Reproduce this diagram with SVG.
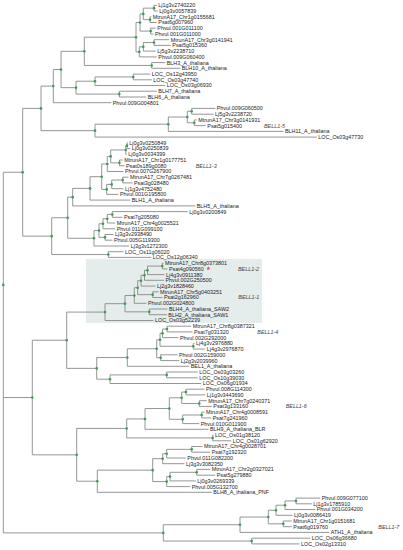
<svg xmlns="http://www.w3.org/2000/svg" width="403" height="550" viewBox="0 0 403 550">
<style>
text{font-family:"Liberation Sans",Arial,sans-serif;font-size:5.4px;fill:#222}
.cl{font-style:italic;fill:#444}
.br{fill:none;stroke:#8a8a8a;stroke-width:0.9}
.nd{fill:#3a9d4f}
</style>
<rect id="highlight" x="86" y="259" width="176" height="64" fill="#e4ecec"/>
<g id="connectors" class="br"><path d="M3.3,172.26V532.89M3.3,172.26H22.7M3.3,397.53H32.3M3.3,532.89H163.3
M22.7,108.38V236.13M22.7,108.38H41M22.7,236.13H51.7
M41,86.1V130.65M41,86.1H53.3M41,130.65H95
M53.3,69.49V102.7M53.3,69.49H61M53.3,102.7H111.2
M61,51.32V87.66M61,51.32H84.3M61,87.66H76
M84.3,37.18V65.45M84.3,37.18H136M84.3,65.45H151.7
M136,22.5V51.86M136,22.5H140M136,51.86H139.3
M140,13.9V31.1M140,13.9H143.3M140,31.1H150.7
M143.3,8.15V19.65M143.3,8.15H154M143.3,19.65H150
M154,5.3V11M154,5.3H156.8M154,11H157.8
M150,16.8V22.5M150,16.8H151.2M150,22.5H156.8
M150.7,28.2V34M150.7,28.2H155.8M150.7,34H153.5
M139.3,46.83V56.9M139.3,46.83H143.3M139.3,56.9H156.8
M143.3,42.55V51.1M143.3,42.55H154M143.3,51.1H155.8
M154,39.7V45.4M154,39.7H169.2M154,45.4H170.8
M151.7,62.6V68.3M151.7,62.6H165.2M151.7,68.3H180.2
M76,81.23V94.1M76,81.23H95M76,94.1H119.3
M95,76.95V85.5M95,76.95H133.3M95,85.5H165.2
M133.3,74.1V79.8M133.3,74.1H150.2M133.3,79.8H151.8
M119.3,91.2V97M119.3,91.2H156.8M119.3,97H146.2
M95,124.2V137.1M95,124.2H168.3M95,137.1H316.8
M168.3,117.03V131.4M168.3,117.03H187.3M168.3,131.4H283.5
M187.3,111.3V122.75M187.3,111.3H191.7M187.3,122.75H194.3
M191.7,108.4V114.2M191.7,108.4H215.2M191.7,114.2H213.5
M194.3,119.9V125.6M194.3,119.9H196.8M194.3,125.6H205.8
M51.7,217.72V254.55M51.7,217.72H67.7M51.7,254.55H108.3
M67.7,197.15V238.28M67.7,197.15H72.7M67.7,238.28H94
M72.7,188.39V205.9M72.7,188.39H90M72.7,205.9H195.2
M90,176.68V200.1M90,176.68H101.7M90,200.1H130.2
M101.7,163.96V189.39M101.7,163.96H107.3M101.7,189.39H106.7
M107.3,156.41V171.5M107.3,156.41H110.7M107.3,171.5H123.5
M110.7,149.98V162.85M110.7,149.98H125.8M110.7,162.85H119.5
M125.8,145.65V154.3M125.8,145.65H127M125.8,154.3H126.8
M127,142.8V148.5M127,142.8H127.8M127,148.5H130.2
M119.5,160V165.7M119.5,160H122.8M119.5,165.7H124.5
M106.7,184.38V194.4M106.7,184.38H111.7M106.7,194.4H118.5
M111.7,180.05V188.7M111.7,180.05H122.7M111.7,188.7H123.5
M122.7,177.2V182.9M122.7,177.2H128.5M122.7,182.9H132.5
M94,230.56V246M94,230.56H99M94,246H129.2
M99,223.76V237.35M99,223.76H103M99,237.35H105
M103,218.73V228.8M103,218.73H107.3M103,228.8H115.2
M107.3,214.45V223M107.3,214.45H112.3M107.3,223H115.2
M112.3,211.6V217.3M112.3,211.6H187.8M112.3,217.3H122.5
M105,234.5V240.2M105,234.5H113.5M105,240.2H112.5
M108.3,251.7V257.4M108.3,251.7H123.5M108.3,257.4H151.2
M32.3,340.23V454.83M32.3,340.23H66.7M32.3,454.83H76.7
M66.7,312.09V368.37M66.7,312.09H105M66.7,368.37H96.7
M105,303.67V320.5M105,303.67H125M105,320.5H153.5
M125,295.49V311.85M125,295.49H134.3M125,311.85H149.3
M134.3,287.68V303.3M134.3,287.68H137.7M134.3,303.3H146.5
M137.7,280.71V294.65M137.7,280.71H141M137.7,294.65H152.7
M141,275.31V286.1M141,275.31H144.5M141,286.1H155.5
M144.5,270.33V280.3M144.5,270.33H147.5M144.5,280.3H164
M147.5,266.05V274.6M147.5,266.05H162.3M147.5,274.6H164.5
M162.3,263.2V268.9M162.3,263.2H163.5M162.3,268.9H167.5
M152.7,291.8V297.5M152.7,291.8H158.5M152.7,297.5H162.5
M149.3,309V314.7M149.3,309H167.5M149.3,314.7H166.8
M96.7,357.53V379.2M96.7,357.53H127.3M96.7,379.2H110
M127.3,348.75V366.3M127.3,348.75H156.7M127.3,366.3H189.2
M156.7,339.79V357.7M156.7,339.79H160M156.7,357.7H160.7
M160,333.33V346.25M160,333.33H162.5M160,346.25H193.3
M162.5,329.05V337.6M162.5,329.05H167M162.5,337.6H178.5
M167,326.2V331.9M167,326.2H191.2M167,331.9H192.5
M193.3,343.4V349.1M193.3,343.4H194.5M193.3,349.1H205.2
M160.7,354.8V360.6M160.7,354.8H177.5M160.7,360.6H179.2
M110,374.9V383.5M110,374.9H166.7M110,383.5H201.2
M166.7,372V377.8M166.7,372H197.8M166.7,377.8H197.8
M76.7,428.44V481.22M76.7,428.44H126.7M76.7,481.22H97.3
M126.7,418.93V437.95M126.7,418.93H145M126.7,437.95H212.7
M145,408.55V429.3M145,408.55H169.3M145,429.3H208.5
M169.3,397.8V419.3M169.3,397.8H181.7M169.3,419.3H182.7
M181.7,392.05V403.55M181.7,392.05H186M181.7,403.55H199.3
M186,389.2V394.9M186,389.2H204.5M186,394.9H205.2
M199.3,400.7V406.4M199.3,400.7H206.8M199.3,406.4H211.8
M182.7,415V423.6M182.7,415H201.7M182.7,423.6H199.2
M201.7,412.1V417.9M201.7,412.1H204.5M201.7,417.9H211.2
M212.7,435.1V440.8M212.7,435.1H213.5M212.7,440.8H231.2
M97.3,470.15V492.3M97.3,470.15H152.7M97.3,492.3H211.8
M152.7,458.69V481.6M152.7,458.69H162.7M152.7,481.6H166.7
M162.7,453.68V463.7M162.7,453.68H166.7M162.7,463.7H184.5
M166.7,449.35V458M166.7,449.35H191.7M166.7,458H185.8
M191.7,446.5V452.2M191.7,446.5H202.5M191.7,452.2H210.2
M166.7,476.6V486.6M166.7,476.6H170M166.7,486.6H190.2
M170,472.3V480.9M170,472.3H196.7M170,480.9H195.8
M196.7,469.4V475.2M196.7,469.4H210.2M196.7,475.2H215.2
M163.3,524.73V541.05M163.3,524.73H240M163.3,541.05H251.7
M240,517.06V532.4M240,517.06H268.3M240,532.4H329.2
M268.3,510.26V523.85M268.3,510.26H276M268.3,523.85H283.3
M276,505.23V515.3M276,505.23H285M276,515.3H292.5
M285,500.95V509.5M285,500.95H296M285,509.5H315.2
M296,498.1V503.8M296,498.1H320.2M296,503.8H311.8
M283.3,521V526.7M283.3,521H291.8M283.3,526.7H291.8
M251.7,538.2V543.9M251.7,538.2H310.2M251.7,543.9H299.5"/></g>
<g id="internal-nodes" class="nd">
<circle id="root" cx="3.3" cy="284.9" r="1.3"/>
<circle cx="22.7" cy="172.26" r="1.3"/><circle cx="41" cy="108.38" r="1.3"/><circle cx="53.3" cy="86.1" r="1.3"/><circle cx="61" cy="69.49" r="1.3"/><circle cx="84.3" cy="51.32" r="1.3"/><circle cx="136" cy="37.18" r="1.3"/><circle cx="140" cy="22.5" r="1.3"/><circle cx="143.3" cy="13.9" r="1.3"/><circle cx="154" cy="8.15" r="1.3"/><circle cx="150" cy="19.65" r="1.3"/><circle cx="150.7" cy="31.1" r="1.3"/><circle cx="139.3" cy="51.86" r="1.3"/><circle cx="143.3" cy="46.83" r="1.3"/><circle cx="154" cy="42.55" r="1.3"/><circle cx="151.7" cy="65.45" r="1.3"/><circle cx="76" cy="87.66" r="1.3"/><circle cx="95" cy="81.23" r="1.3"/><circle cx="133.3" cy="76.95" r="1.3"/><circle cx="119.3" cy="94.1" r="1.3"/><circle cx="95" cy="130.65" r="1.3"/><circle cx="168.3" cy="124.2" r="1.3"/><circle cx="187.3" cy="117.03" r="1.3"/><circle cx="191.7" cy="111.3" r="1.3"/><circle cx="194.3" cy="122.75" r="1.3"/>
<circle cx="51.7" cy="236.13" r="1.3"/><circle cx="67.7" cy="217.72" r="1.3"/><circle cx="72.7" cy="197.15" r="1.3"/><circle cx="90" cy="188.39" r="1.3"/><circle cx="101.7" cy="176.68" r="1.3"/><circle cx="107.3" cy="163.96" r="1.3"/><circle cx="110.7" cy="156.41" r="1.3"/><circle cx="125.8" cy="149.98" r="1.3"/><circle cx="127" cy="145.65" r="1.3"/><circle cx="119.5" cy="162.85" r="1.3"/><circle cx="106.7" cy="189.39" r="1.3"/><circle cx="111.7" cy="184.38" r="1.3"/><circle cx="122.7" cy="180.05" r="1.3"/><circle cx="94" cy="238.28" r="1.3"/><circle cx="99" cy="230.56" r="1.3"/><circle cx="103" cy="223.76" r="1.3"/><circle cx="107.3" cy="218.73" r="1.3"/><circle cx="112.3" cy="214.45" r="1.3"/><circle cx="105" cy="237.35" r="1.3"/><circle cx="108.3" cy="254.55" r="1.3"/>
<circle cx="32.3" cy="397.53" r="1.3"/><circle cx="66.7" cy="340.23" r="1.3"/><circle cx="105" cy="312.09" r="1.3"/><circle cx="125" cy="303.67" r="1.3"/><circle cx="134.3" cy="295.49" r="1.3"/><circle cx="137.7" cy="287.68" r="1.3"/><circle cx="141" cy="280.71" r="1.3"/><circle cx="144.5" cy="275.31" r="1.3"/><circle cx="147.5" cy="270.33" r="1.3"/><circle cx="162.3" cy="266.05" r="1.3"/><circle cx="152.7" cy="294.65" r="1.3"/><circle cx="149.3" cy="311.85" r="1.3"/><circle cx="96.7" cy="368.37" r="1.3"/><circle cx="127.3" cy="357.53" r="1.3"/><circle cx="156.7" cy="348.75" r="1.3"/><circle cx="160" cy="339.79" r="1.3"/><circle cx="162.5" cy="333.33" r="1.3"/><circle cx="167" cy="329.05" r="1.3"/><circle cx="193.3" cy="346.25" r="1.3"/><circle cx="160.7" cy="357.7" r="1.3"/><circle cx="110" cy="379.2" r="1.3"/><circle cx="166.7" cy="374.9" r="1.3"/>
<circle cx="76.7" cy="454.83" r="1.3"/><circle cx="126.7" cy="428.44" r="1.3"/><circle cx="145" cy="418.93" r="1.3"/><circle cx="169.3" cy="408.55" r="1.3"/><circle cx="181.7" cy="397.8" r="1.3"/><circle cx="186" cy="392.05" r="1.3"/><circle cx="199.3" cy="403.55" r="1.3"/><circle cx="182.7" cy="419.3" r="1.3"/><circle cx="201.7" cy="415" r="1.3"/><circle cx="212.7" cy="437.95" r="1.3"/><circle cx="97.3" cy="481.22" r="1.3"/><circle cx="152.7" cy="470.15" r="1.3"/><circle cx="162.7" cy="458.69" r="1.3"/><circle cx="166.7" cy="453.68" r="1.3"/><circle cx="191.7" cy="449.35" r="1.3"/><circle cx="166.7" cy="481.6" r="1.3"/><circle cx="170" cy="476.6" r="1.3"/><circle cx="196.7" cy="472.3" r="1.3"/>
<circle cx="163.3" cy="532.89" r="1.3"/><circle cx="240" cy="524.73" r="1.3"/><circle cx="268.3" cy="517.06" r="1.3"/><circle cx="276" cy="510.26" r="1.3"/><circle cx="285" cy="505.23" r="1.3"/><circle cx="296" cy="500.95" r="1.3"/><circle cx="283.3" cy="523.85" r="1.3"/><circle cx="251.7" cy="541.05" r="1.3"/>
</g>
<g id="leaves">
<g id="L0"><text x="158.3" y="7.2">Lj1g3v2740220</text></g>
<g id="L1"><text x="159.3" y="12.9">Lj0g3v0057839</text></g>
<g id="L2"><text x="152.7" y="18.7">MtrunA17_Chr1g0155681</text></g>
<g id="L3"><text x="158.3" y="24.4">Psat6g007960</text></g>
<g id="L4"><text x="157.3" y="30.1">Phvul.001G011100</text></g>
<g id="L5"><text x="155" y="35.9">Phvul.001G011000</text></g>
<g id="L6"><text x="170.7" y="41.6">MtrunA17_Chr3g0141941</text></g>
<g id="L7"><text x="172.3" y="47.3">Psat5g015360</text></g>
<g id="L8"><text x="157.3" y="53">Lj5g3v2238710</text></g>
<g id="L9"><text x="158.3" y="58.8">Phvul.009G060400</text></g>
<g id="L10"><text x="166.7" y="64.5">BLH3_A_thaliana</text></g>
<g id="L11"><text x="181.7" y="70.2">BLH10_A_thaliana</text></g>
<g id="L12"><text x="151.7" y="76">LOC_Os12g43950</text></g>
<g id="L13"><text x="153.3" y="81.7">LOC_Os03g47740</text></g>
<g id="L14"><text x="166.7" y="87.4">LOC_Os03g06930</text></g>
<g id="L15"><text x="158.3" y="93.1">BLH7_A_thaliana</text></g>
<g id="L16"><text x="147.7" y="98.9">BLH6_A_thaliana</text></g>
<g id="L17"><text x="112.7" y="104.6">Phvul.009G004801</text></g>
<g id="L18"><text x="216.7" y="110.3">Phvul.009G060500</text></g>
<g id="L19"><text x="215" y="116.1">Lj5g3v2238720</text></g>
<g id="L20"><text x="198.3" y="121.8">MtrunA17_Chr3g0141931</text></g>
<g id="L21"><text x="207.3" y="127.5">Psat5g015400</text></g>
<g id="L22"><text x="285" y="133.3">BLH11_A_thaliana</text></g>
<g id="L23"><text x="318.3" y="139">LOC_Os03g47730</text></g>
<g id="L24"><text x="129.3" y="144.7">Lj0g3v0250849</text></g>
<g id="L25"><text x="131.7" y="150.4">Lj0g3v0250839</text></g>
<g id="L26"><text x="128.3" y="156.2">Lj0g3v0034399</text></g>
<g id="L27"><text x="124.3" y="161.9">MtrunA17_Chr1g0177751</text></g>
<g id="L28"><text x="126" y="167.6">Psat0s189g0080</text></g>
<g id="L29"><text x="125" y="173.4">Phvul.007G267900</text></g>
<g id="L30"><text x="130" y="179.1">MtrunA17_Chr7g0267481</text></g>
<g id="L31"><text x="134" y="184.8">Psat3g028480</text></g>
<g id="L32"><text x="125" y="190.6">Lj1g3v4752480</text></g>
<g id="L33"><text x="120" y="196.3">Phvul.001G195800</text></g>
<g id="L34"><text x="131.7" y="202">BLH1_A_thaliana</text></g>
<g id="L35"><text x="196.7" y="207.8">BLH5_A_thaliana</text></g>
<g id="L36"><text x="189.3" y="213.5">Lj0g3v0200849</text></g>
<g id="L37"><text x="124" y="219.2">Psat7g205080</text></g>
<g id="L38"><text x="116.7" y="224.9">MtrunA17_Chr4g0025521</text></g>
<g id="L39"><text x="116.7" y="230.7">Phvul.011G099100</text></g>
<g id="L40"><text x="115" y="236.4">Lj3g3v2938490</text></g>
<g id="L41"><text x="114" y="242.1">Phvul.005G119300</text></g>
<g id="L42"><text x="130.7" y="247.9">Lj3g3v1272300</text></g>
<g id="L43"><text x="125" y="253.6">LOC_Os11g06020</text></g>
<g id="L44"><text x="152.7" y="259.3">LOC_Os12g06340</text></g>
<g id="L45"><text x="165" y="265.1">MtrunA17_Chr8g0373801</text></g>
<g id="L46"><text x="169" y="270.8">Psat4g090560</text><polygon points="208.3,266.3 208.9,267.7 210.3,267.7 209.2,268.6 209.6,270 208.3,269.2 207,270 207.4,268.6 206.3,267.7 207.7,267.7" fill="#e23a6a"/></g>
<g id="L47"><text x="166" y="276.5">Lj4g3v0911380</text></g>
<g id="L48"><text x="165.5" y="282.2">Phvul.002G250500</text></g>
<g id="L49"><text x="157" y="288">Lj2g3v1828460</text></g>
<g id="L50"><text x="160" y="293.7">MtrunA17_Chr5g0403251</text></g>
<g id="L51"><text x="164" y="299.4">Psat2g162960</text></g>
<g id="L52"><text x="148" y="305.2">Phvul.002G024800</text></g>
<g id="L53"><text x="169" y="310.9">BLH4_A_thaliana_SAW2</text></g>
<g id="L54"><text x="168.3" y="316.6">BLH2_A_thaliana_SAW1</text></g>
<g id="L55"><text x="155" y="322.4">LOC_Os03g52239</text></g>
<g id="L56"><text x="192.7" y="328.1">MtrunA17_Chr8g0387321</text></g>
<g id="L57"><text x="194" y="333.8">Psat7g031320</text></g>
<g id="L58"><text x="180" y="339.5">Phvul.002G292000</text></g>
<g id="L59"><text x="196" y="345.3">Lj4g3v2976880</text></g>
<g id="L60"><text x="206.7" y="351">Lj4g3v2976870</text></g>
<g id="L61"><text x="179" y="356.7">Phvul.002G159000</text></g>
<g id="L62"><text x="180.7" y="362.5">Lj2g3v2039960</text></g>
<g id="L63"><text x="190.7" y="368.2">BEL1_A_thaliana</text></g>
<g id="L64"><text x="199.3" y="373.9">LOC_Os03g03260</text></g>
<g id="L65"><text x="199.3" y="379.7">LOC_Os10g39030</text></g>
<g id="L66"><text x="202.7" y="385.4">LOC_Os06g01934</text></g>
<g id="L67"><text x="206" y="391.1">Phvul.008G114300</text></g>
<g id="L68"><text x="206.7" y="396.8">Lj1g3v3443690</text></g>
<g id="L69"><text x="208.3" y="402.6">MtrunA17_Chr7g0240371</text></g>
<g id="L70"><text x="213.3" y="408.3">Psat3g133160</text></g>
<g id="L71"><text x="206" y="414">MtrunA17_Chr4g0008591</text></g>
<g id="L72"><text x="212.7" y="419.8">Psat7g241960</text></g>
<g id="L73"><text x="200.7" y="425.5">Phvul.010G011900</text></g>
<g id="L74"><text x="210" y="431.2">BLH9_A_thaliana_BLR</text></g>
<g id="L75"><text x="215" y="437">LOC_Os01g38120</text></g>
<g id="L76"><text x="232.7" y="442.7">LOC_Os01g62920</text></g>
<g id="L77"><text x="204" y="448.4">MtrunA17_Chr4g0028701</text></g>
<g id="L78"><text x="211.7" y="454.1">Psat7g192320</text></g>
<g id="L79"><text x="187.3" y="459.9">Phvul.011G082200</text></g>
<g id="L80"><text x="186" y="465.6">Lj3g3v3082350</text></g>
<g id="L81"><text x="211.7" y="471.3">MtrunA17_Chr2g0327021</text></g>
<g id="L82"><text x="216.7" y="477.1">Psat5g279880</text></g>
<g id="L83"><text x="197.3" y="482.8">Lj0g3v0269339</text></g>
<g id="L84"><text x="191.7" y="488.5">Phvul.005G132700</text></g>
<g id="L85"><text x="213.3" y="494.2">BLH8_A_thaliana_PNF</text></g>
<g id="L86"><text x="321.7" y="500">Phvul.009G077100</text></g>
<g id="L87"><text x="313.3" y="505.7">Lj1g3v1785910</text></g>
<g id="L88"><text x="316.7" y="511.4">Phvul.001G034200</text></g>
<g id="L89"><text x="294" y="517.2">Lj0g3v0086419</text></g>
<g id="L90"><text x="293.3" y="522.9">MtrunA17_Chr1g0151681</text></g>
<g id="L91"><text x="293.3" y="528.6">Psat6g019760</text></g>
<g id="L92"><text x="330.7" y="534.3">ATH1_A_thaliana</text></g>
<g id="L93"><text x="311.7" y="540.1">LOC_Os06g36680</text></g>
<g id="L94"><text x="301" y="545.8">LOC_Os02g13310</text></g>
</g>
<g id="clade-labels">
<text class="cl" x="264" y="127.5">BELL1-5</text>
<text class="cl" x="195.7" y="167.6">BELL1-3</text>
<text class="cl" x="238" y="270.8">BELL1-2</text>
<text class="cl" x="238.3" y="299.4">BELL1-1</text>
<text class="cl" x="257.3" y="333.8">BELL1-4</text>
<text class="cl" x="285.7" y="408.3">BELL1-6</text>
<text class="cl" x="378.3" y="528.6">BELL1-7</text>
</g>
</svg>
